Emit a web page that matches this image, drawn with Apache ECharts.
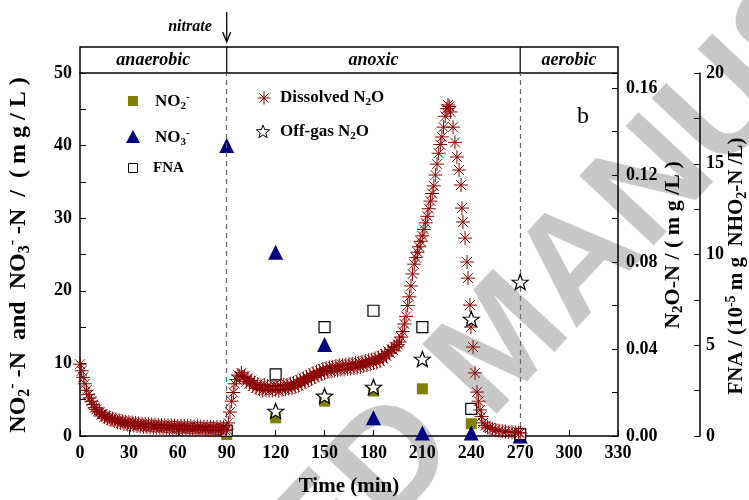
<!DOCTYPE html>
<html>
<head>
<meta charset="utf-8">
<script src="https://cdn.jsdelivr.net/npm/echarts@6/dist/echarts.min.js"></script>
<style>
html, body { margin: 0; padding: 0; background: #fff; }
#chart { width: 749px; height: 500px; }
</style>
</head>
<body>
<div id="chart"></div>
<script>
// sampled points (min)
const sampleTime = [90, 120, 150, 180, 210, 240, 270];
const no2 = [0.2, 2.5, 4.8, 6.2, 6.5, 1.7, 0];
const no3 = [40, 25.3, 12.6, 2.5, 0.4, 0.4, 0];
const fna = [0.28, 3.4, 6.0, 6.9, 6.0, 1.5, 0.1];
const offgasTime = [120, 150, 180, 210, 240, 270];
const offgasN2O = [0.0115, 0.0184, 0.0225, 0.0354, 0.0538, 0.0708];

// dissolved N2O, online probe (one reading per minute, denser around the peak)
const dissolvedTime = [
  0, 1, 2, 3, 4, 5, 6, 7, 8, 9, 10, 11, 12, 13, 14, 15, 16, 17, 18, 19,
  20, 21, 22, 23, 24, 25, 26, 27, 28, 29, 30, 31, 32, 33, 34, 35, 36, 37, 38, 39,
  40, 41, 42, 43, 44, 45, 46, 47, 48, 49, 50, 51, 52, 53, 54, 55, 56, 57, 58, 59,
  60, 61, 62, 63, 64, 65, 66, 67, 68, 69, 70, 71, 72, 73, 74, 75, 76, 77, 78, 79,
  80, 81, 82, 83, 84, 85, 86, 87, 88, 89, 90,
  91, 92, 93, 94, 95, 96, 97, 98, 99, 100, 101, 102, 103, 104, 105, 106, 107, 108, 109, 110,
  111, 112, 113, 114, 115, 116, 117, 118, 119, 120, 121, 122, 123, 124, 125, 126, 127, 128, 129, 130,
  131, 132, 133, 134, 135, 136, 137, 138, 139, 140, 141, 142, 143, 144, 145, 146, 147, 148, 149, 150,
  151, 152, 153, 154, 155, 156, 157, 158, 159, 160, 161, 162, 163, 164, 165, 166, 167, 168, 169, 170,
  171, 172, 173, 174, 175, 176, 177, 178, 179, 180, 181, 182, 183, 184, 185, 186, 187, 188, 189, 190,
  191, 192, 193, 194, 195, 196, 197, 198, 199, 200, 201, 202, 203,
  204, 205, 206, 207, 208, 209, 210, 211, 212, 213, 214, 215, 216, 217, 218, 219,
  220, 221, 222, 223, 224, 225, 225.7, 226.5, 227.3, 228.8, 230, 231.2, 232.5, 233.7,
  234.3, 234.9, 236.2, 237.4, 238, 239.2, 239.8, 241.1, 242.3, 243.5, 244.5, 245.4,
  246.3, 247.2, 248.5, 250, 251.5, 253, 255, 257, 259, 261, 263, 265, 267, 269, 270
];
const dissolvedN2O = [
  0.033, 0.030, 0.027, 0.024, 0.021, 0.019, 0.0175, 0.016, 0.0145, 0.013,
  0.0122, 0.0112, 0.0110, 0.0098, 0.0100, 0.0088, 0.0092, 0.0080, 0.0086, 0.0074,
  0.0080, 0.0068, 0.0076, 0.0064, 0.0072, 0.0060, 0.0069, 0.0056, 0.0066, 0.0053,
  0.0064, 0.0050, 0.0062, 0.0048, 0.0060, 0.0046, 0.0058, 0.0044, 0.0056, 0.0042,
  0.0055, 0.0041, 0.0054, 0.0040, 0.0053, 0.0039, 0.0052, 0.0038, 0.0051, 0.0037,
  0.0050, 0.0036, 0.0049, 0.0035, 0.0048, 0.0034, 0.0048, 0.0034, 0.0047, 0.0033,
  0.0047, 0.0033, 0.0046, 0.0032, 0.0046, 0.0032, 0.0045, 0.0031, 0.0045, 0.0031,
  0.0044, 0.0030, 0.0044, 0.0030, 0.0043, 0.0029, 0.0043, 0.0029, 0.0042, 0.0028,
  0.0042, 0.0028, 0.0041, 0.0027, 0.0041, 0.0027, 0.0040, 0.0026, 0.0040, 0.0026, 0.0031,
  0.006, 0.011, 0.016, 0.020, 0.024, 0.026, 0.028, 0.0275, 0.029, 0.027,
  0.0275, 0.025, 0.0265, 0.024, 0.0255, 0.023, 0.0245, 0.022, 0.0238, 0.0215,
  0.0232, 0.021, 0.0235, 0.0212, 0.023, 0.0208, 0.0228, 0.021, 0.0232, 0.0212,
  0.0228, 0.0208, 0.0232, 0.0214, 0.0236, 0.0215, 0.0235, 0.0218, 0.024, 0.022,
  0.0245, 0.0225, 0.025, 0.0232, 0.0258, 0.024, 0.0265, 0.0248, 0.0272, 0.0255,
  0.028, 0.0262, 0.0288, 0.027, 0.0295, 0.0278, 0.030, 0.0285, 0.0308, 0.029,
  0.0312, 0.0295, 0.0316, 0.0298, 0.0318, 0.030, 0.0322, 0.0302, 0.0325, 0.0305,
  0.0326, 0.0306, 0.0328, 0.0308, 0.033, 0.031, 0.0332, 0.0312, 0.0335, 0.0315,
  0.0338, 0.0318, 0.034, 0.0322, 0.0345, 0.0326, 0.0348, 0.033, 0.0352, 0.0334,
  0.0356, 0.0338, 0.036, 0.0345, 0.0368, 0.0355, 0.0378, 0.0368, 0.039, 0.0382,
  0.0398, 0.0395, 0.041, 0.041, 0.042, 0.0432, 0.0455, 0.048, 0.0515, 0.0550,
  0.0600, 0.0640, 0.0690,
  0.0745, 0.0790, 0.0820, 0.0845, 0.0870, 0.0895, 0.0920, 0.0950, 0.0980, 0.1010,
  0.1045, 0.1080, 0.1115, 0.1150, 0.1200, 0.1250,
  0.1300, 0.1340, 0.1375, 0.1420, 0.1470, 0.1505, 0.1522, 0.1515, 0.1490, 0.1420,
  0.1350, 0.1283, 0.1223, 0.1154,
  0.1048, 0.0984, 0.0910, 0.0800, 0.0726, 0.0602, 0.0501, 0.0409, 0.0290, 0.0202,
  0.0160, 0.0120,
  0.0090, 0.0060, 0.0048, 0.0040, 0.0037, 0.0032, 0.0028, 0.0025, 0.0022, 0.0020,
  0.0018, 0.0017, 0.0016, 0.0015, 0.0014
];

const xTicks = [0, 330, 30];
const phases = [['anaerobic', 0, 90], ['anoxic', 90, 270], ['aerobic', 270, 330]];

const SERIF = '"Liberation Serif", "DejaVu Serif", serif';
const asteriskPath = 'M5 0L5 10M0 5L10 5M1.5 1.5L8.5 8.5M8.5 1.5L1.5 8.5';
const starPath = 'M10 0L12.47 6.6L19.51 6.91L13.99 11.3L15.88 18.09L10 14.2L4.12 18.09L6.01 11.3L0.49 6.91L7.53 6.6Z';
const starPts = [[10, 0], [12.47, 6.6], [19.51, 6.91], [13.99, 11.3], [15.88, 18.09], [10, 14.2],
  [4.12, 18.09], [6.01, 11.3], [0.49, 6.91], [7.53, 6.6]];

function pairs(xs, ys) {
  return xs.map((x, i) => [x, ys[i]]);
}
function isMultiple(v, step) {
  let r = v / step;
  return Math.abs(r - Math.round(r)) < 1e-6;
}
function titleRich(size) {
  let small = Math.round(size * 0.68);
  return {
    n: { fontFamily: SERIF, fontWeight: 'bold', fontSize: size, lineHeight: size + 4, fill: '#000' },
    s: { fontFamily: SERIF, fontWeight: 'bold', fontSize: small, lineHeight: small, verticalAlign: 'bottom', fill: '#000' },
    p: { fontFamily: SERIF, fontWeight: 'bold', fontSize: small, lineHeight: small, verticalAlign: 'top', fill: '#000' }
  };
}

const labelStyle = { fontFamily: SERIF, fontWeight: 'bold', fontSize: 18, color: '#000' };
const lineStyle = { color: '#000', width: 1.5 };

let chart = echarts.init(document.getElementById('chart'));

let option = {
  animation: false,
  backgroundColor: '#fff',
  grid: { left: 80, right: 131, top: 73, bottom: 64, outerBoundsMode: 'none', containLabel: false },
  xAxis: {
    type: 'value',
    min: xTicks[0],
    max: xTicks[1],
    interval: xTicks[2],
    axisLine: { lineStyle: lineStyle },
    axisTick: { inside: true, length: 6, lineStyle: { color: '#000' } },
    axisLabel: Object.assign({ margin: 8 }, labelStyle),
    splitLine: { show: false },
    name: 'Time (min)',
    nameLocation: 'middle',
    nameGap: 40,
    nameTextStyle: { fontFamily: SERIF, fontWeight: 'bold', fontSize: 21, color: '#000' }
  },
  yAxis: [
    {
      type: 'value',
      position: 'left',
      min: 0,
      max: 50,
      interval: 5,
      axisLine: { show: true, lineStyle: lineStyle },
      axisTick: { inside: true, length: 6, lineStyle: { color: '#000' } },
      axisLabel: Object.assign({ margin: 8, formatter: v => isMultiple(v, 10) ? v : '' }, labelStyle),
      splitLine: { show: false }
    },
    {
      type: 'value',
      position: 'right',
      min: 0,
      max: 0.1669,
      interval: 0.02,
      axisLine: { show: true, lineStyle: lineStyle },
      axisTick: { inside: true, length: 6, lineStyle: { color: '#000' } },
      axisLabel: Object.assign({ margin: 8, formatter: v => (isMultiple(v, 0.04) ? v.toFixed(2) : '') }, labelStyle),
      splitLine: { show: false }
    },
    {
      type: 'value',
      position: 'right',
      offset: 82,
      min: 0,
      max: 20,
      interval: 2.5,
      axisLine: { show: true, lineStyle: lineStyle },
      axisTick: { inside: true, length: 6, lineStyle: { color: '#000' } },
      axisLabel: Object.assign({ margin: 6, formatter: v => isMultiple(v, 5) ? v : '' }, labelStyle),
      splitLine: { show: false }
    }
  ],
  series: [
    {
      name: 'NO2-',
      type: 'scatter',
      yAxisIndex: 0,
      symbol: 'rect',
      symbolSize: 11,
      itemStyle: { color: '#808000', opacity: 1 },
      data: pairs(sampleTime, no2),
      z: 3,
      markLine: {
        silent: true,
        symbol: 'none',
        label: { show: false },
        lineStyle: { color: '#666', type: [5, 4], width: 1.2 },
        data: [{ xAxis: 90 }, { xAxis: 270 }]
      }
    },
    {
      name: 'NO3-',
      type: 'scatter',
      yAxisIndex: 0,
      symbol: 'triangle',
      symbolSize: 15,
      itemStyle: { color: '#000080', opacity: 1 },
      data: pairs(sampleTime, no3),
      z: 3
    },
    {
      name: 'FNA',
      type: 'scatter',
      yAxisIndex: 2,
      symbol: 'rect',
      symbolSize: 11,
      itemStyle: { color: '#fff', borderColor: '#000', borderWidth: 1.2, opacity: 1 },
      data: pairs(sampleTime, fna),
      z: 4
    },
    {
      name: 'Dissolved N2O',
      type: 'scatter',
      yAxisIndex: 1,
      symbol: 'path://' + asteriskPath,
      symbolSize: 14,
      itemStyle: { color: 'none', borderColor: '#8b0000', borderWidth: 1, opacity: 1 },
      data: pairs(dissolvedTime, dissolvedN2O),
      z: 5
    },
    {
      name: 'Off-gas N2O',
      type: 'scatter',
      yAxisIndex: 1,
      symbol: 'path://' + starPath,
      symbolSize: [16, 15],
      itemStyle: { color: '#fff', borderColor: '#000', borderWidth: 1.2, opacity: 1 },
      data: pairs(offgasTime, offgasN2O),
      z: 6
    }
  ]
};

chart.setOption(option);

function px(v) {
  return chart.convertToPixel({ xAxisIndex: 0 }, v);
}

let x0 = px(0), x90 = px(90), x270 = px(270), x330 = px(330);
let headTop = 47, headBottom = 73;
let headerFont = 'italic bold 18px ' + SERIF;

function vTitle(x, y, size, text) {
  return {
    type: 'text', x: x, y: y, rotation: Math.PI / 2,
    style: { text: text, rich: titleRich(size), align: 'center', verticalAlign: 'middle' }
  };
}

let graphics = [
  // watermark
  {
    type: 'text',
    z: -10,
    x: 505, y: 345,
    rotation: 47 * Math.PI / 180,
    style: {
      text: 'ACCEPTED MANUSCRIPT',
      font: 'bold 148px "Liberation Sans", Arial, sans-serif',
      fill: '#c8c8c8',
      align: 'center',
      verticalAlign: 'middle'
    },
    silent: true
  },
  // axis titles
  vTitle(19, 255, 24, '{n|NO}{s|2}{p|-}{n| -N  and  NO}{s|3}{p|-}{n| -N  /  ( m g / L )}'),
  vTitle(673, 245, 22, '{n|N}{s|2}{n|O-N / ( m g /L )}'),
  vTitle(737, 266, 21, '{n|FNA / (10}{p|-5}{n| m g  NHO}{s|2}{n|-N /L)}'),
  // header band
  {
    type: 'rect',
    shape: { x: x0, y: headTop, width: x330 - x0, height: headBottom - headTop },
    style: { fill: 'none', stroke: '#000', lineWidth: 1.5 }
  },
  { type: 'line', shape: { x1: x90, y1: headTop, x2: x90, y2: headBottom }, style: { stroke: '#000', lineWidth: 1.2 } },
  { type: 'line', shape: { x1: x270, y1: headTop, x2: x270, y2: headBottom }, style: { stroke: '#000', lineWidth: 1.2 } },
  // nitrate arrow
  {
    type: 'text', x: x90 - 15, y: 27,
    style: { text: 'nitrate', font: 'italic bold 16px ' + SERIF, fill: '#000', align: 'right', verticalAlign: 'middle' }
  },
  { type: 'line', shape: { x1: x90, y1: 12, x2: x90, y2: 40 }, style: { stroke: '#000', lineWidth: 1.3 } },
  { type: 'polyline', shape: { points: [[x90 - 4, 32], [x90, 42], [x90 + 4, 32]] }, style: { stroke: '#000', fill: 'none', lineWidth: 1.3 } },
  // panel letter
  {
    type: 'text', x: 583, y: 117,
    style: { text: 'b', font: '24px ' + SERIF, fill: '#000', align: 'center', verticalAlign: 'middle' }
  }
];

phases.forEach(function (p) {
  graphics.push({
    type: 'text',
    x: (px(p[1]) + px(p[2])) / 2,
    y: (headTop + headBottom) / 2,
    style: { text: p[0], font: headerFont, fill: '#000', align: 'center', verticalAlign: 'middle' }
  });
});

// legend
let legRich = {
  n: { fontFamily: SERIF, fontWeight: 'bold', fontSize: 17, lineHeight: 20, fill: '#000' },
  f: { fontFamily: SERIF, fontWeight: 'bold', fontSize: 15, lineHeight: 20, fill: '#000' },
  s: { fontFamily: SERIF, fontWeight: 'bold', fontSize: 11, lineHeight: 11, verticalAlign: 'bottom', fill: '#000' },
  p: { fontFamily: SERIF, fontWeight: 'bold', fontSize: 11, lineHeight: 11, verticalAlign: 'top', fill: '#000' }
};
function legendText(x, y, text) {
  return { type: 'text', x: x, y: y, style: { text: text, rich: legRich, align: 'left', verticalAlign: 'middle' } };
}
function legendAsterisk(cx, cy, r) {
  let d = r * 0.7;
  let segs = [[0, -r, 0, r], [-r, 0, r, 0], [-d, -d, d, d], [d, -d, -d, d]];
  return segs.map(s => ({
    type: 'line',
    shape: { x1: cx + s[0], y1: cy + s[1], x2: cx + s[2], y2: cy + s[3] },
    style: { stroke: '#8b0000', lineWidth: 1 }
  }));
}
graphics.push(
  { type: 'rect', shape: { x: 128, y: 96, width: 10, height: 10 }, style: { fill: '#808000' } },
  legendText(155, 102, '{n|NO}{s|2}{p|-}'),
  { type: 'polygon', shape: { points: [[133, 130], [126, 143], [140, 143]] }, style: { fill: '#000080' } },
  legendText(155, 138, '{n|NO}{s|3}{p|-}'),
  { type: 'rect', shape: { x: 128.5, y: 163.5, width: 9, height: 9 }, style: { fill: '#fff', stroke: '#000', lineWidth: 1 } },
  legendText(153, 168, '{f|FNA}'),
  legendText(280, 98, '{n|Dissolved N}{s|2}{n|O}'),
  {
    type: 'polygon',
    shape: { points: starPts.map(p => [256 + p[0] * 0.7, 125 + p[1] * 0.7]) },
    style: { fill: '#fff', stroke: '#000', lineWidth: 1 }
  },
  legendText(280, 132, '{n|Off-gas N}{s|2}{n|O}')
);
legendAsterisk(264, 98, 6.5).forEach(g => graphics.push(g));

chart.setOption({ graphic: graphics });
</script>
</body>
</html>
